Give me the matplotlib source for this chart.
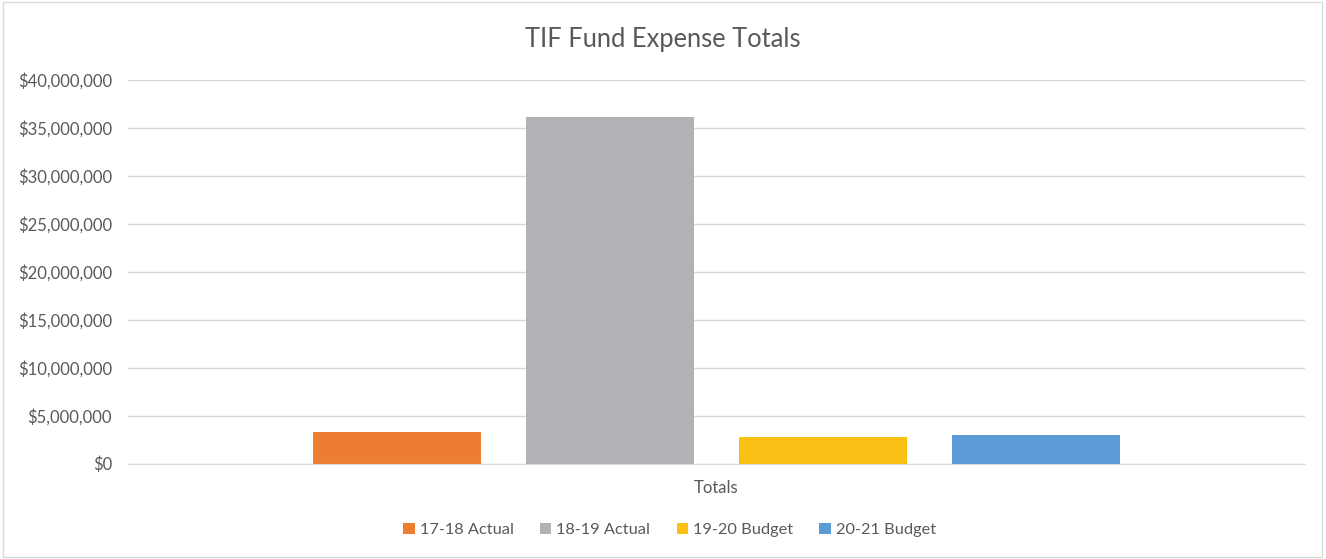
import matplotlib.pyplot as plt
from matplotlib.patches import Rectangle
from matplotlib.ticker import FuncFormatter

# Chart data
series = ['17-18 Actual', '18-19 Actual', '19-20 Budget', '20-21 Budget']
values = [3300000, 36100000, 2780000, 2990000]
category = 'Totals'
colors = ['#ED7D31', '#B1B2B5', '#FBC015', '#5B9BD5']

TEXT = '#595959'
plt.rcParams['font.family'] = ['Lato', 'DejaVu Sans']

fig = plt.figure(figsize=(13.26, 5.59), dpi=100)
fig.patches.append(Rectangle((0.002, 0.004), 0.995, 0.992, transform=fig.transFigure,
                             fill=False, edgecolor='#D9D9D9', linewidth=1))
ax = fig.add_axes([128 / 1326, 95.3 / 559, 1177 / 1326, 383.7 / 559])

step = 0.1812
width = 0.1427
for i, (name, val, col) in enumerate(zip(series, values, colors)):
    ax.bar((i - 1.5) * step, val, width=width, color=col, label=name, zorder=2)

ax.set_xlim(-0.5, 0.5)
ax.set_ylim(0, 40000000)
ax.set_yticks(range(0, 40000001, 5000000))
ax.yaxis.set_major_formatter(FuncFormatter(lambda v, p: f'${v:,.0f}'))
ax.set_xticks([0])
ax.set_xticklabels([category])
ax.grid(axis='y', color='#D9D9D9', linewidth=1, zorder=0)
for s in ['top', 'right', 'left']:
    ax.spines[s].set_visible(False)
ax.spines['bottom'].set_color('#D9D9D9')
ax.tick_params(axis='both', length=0, colors=TEXT, labelsize=12)
ax.tick_params(axis='y', pad=11.5)
ax.tick_params(axis='x', pad=12)

fig.text(0.5, 0.93, 'TIF Fund Expense Totals', ha='center', va='center',
         fontsize=18.4, color=TEXT)
leg = fig.legend(loc='center', bbox_to_anchor=(0.505, 0.052), ncol=4, frameon=False,
                 fontsize=11.8, handlelength=0.7, handleheight=0.7,
                 handletextpad=0.3, columnspacing=1.6)
for t in leg.get_texts():
    t.set_color(TEXT)

fig.savefig('out.png', dpi=100)
